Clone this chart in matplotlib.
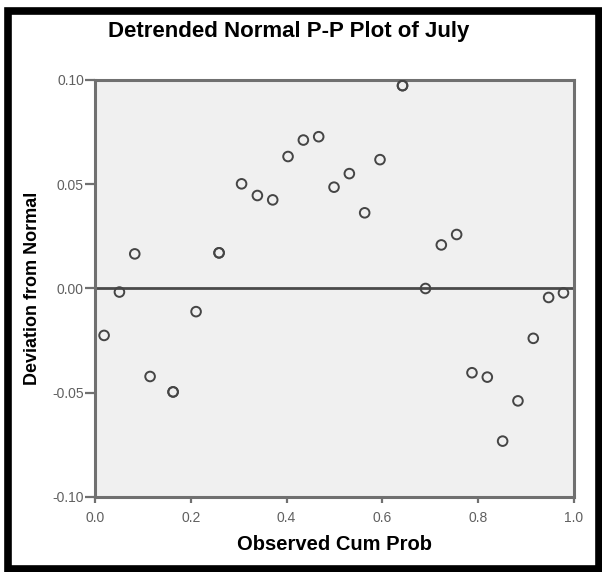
import matplotlib.pyplot as plt
from matplotlib.patches import Rectangle

plt.rcParams['font.family'] = ['Liberation Sans', 'DejaVu Sans']

# observed cumulative probability (ties repeated) and deviation from normal
obs_cum_prob = [0.019, 0.051, 0.083, 0.115, 0.163, 0.163, 0.211, 0.259, 0.259,
                0.306, 0.339, 0.371, 0.403, 0.435, 0.467, 0.499, 0.531, 0.563,
                0.595, 0.642, 0.642, 0.690, 0.723, 0.755, 0.787, 0.819, 0.851,
                0.883, 0.915, 0.947, 0.978]
deviation = [-0.0225, -0.0017, 0.0166, -0.0422, -0.0496, -0.0496, -0.0111, 0.0171, 0.0171,
             0.0502, 0.0446, 0.0425, 0.0633, 0.0712, 0.0728, 0.0486, 0.0551, 0.0363,
             0.0618, 0.0973, 0.0973, 0.0, 0.0209, 0.0259, -0.0404, -0.0425, -0.0732,
             -0.0539, -0.0239, -0.0043, -0.0021]
x_ticks = [0.0, 0.2, 0.4, 0.6, 0.8, 1.0]
y_ticks = [-0.10, -0.05, 0.00, 0.05, 0.10]

fig = plt.figure(figsize=(6.02, 5.72), dpi=100)
fig.patch.set_facecolor('white')

# thick black frame around the whole chart
fig.patches.append(Rectangle((8 / 602, 3 / 572), 591 / 602, 558 / 572,
                             transform=fig.transFigure, fill=False,
                             edgecolor='black', linewidth=5.5))

ax = fig.add_axes([95 / 602, 1 - 497 / 572, 479 / 602, 417 / 572])
ax.set_facecolor('#f0f0f0')
ax.axhline(0, color='#4a4a4a', linewidth=2.0, zorder=1)
ax.scatter(obs_cum_prob, deviation, s=48, facecolors='none',
           edgecolors='#454545', linewidths=1.4, zorder=3)

ax.set_xlim(0, 1)
ax.set_ylim(-0.10, 0.10)
ax.set_xticks(x_ticks)
ax.set_xticklabels([f'{v:.1f}' for v in x_ticks])
ax.set_yticks(y_ticks)
ax.set_yticklabels([f'{v:.2f}' for v in y_ticks])
ax.tick_params(colors='#707070', labelcolor='#606060', labelsize=10, width=1.6)
ax.tick_params(axis='y', length=7, pad=1)
ax.tick_params(axis='x', length=4, pad=6)
for sp in ax.spines.values():
    sp.set_color('#707070')
    sp.set_linewidth(2.2)

ax.set_xlabel('Observed Cum Prob', fontsize=14.5, fontweight='bold')
ax.xaxis.set_label_coords(0.5, -0.092)
ax.set_ylabel('Deviation from Normal', fontsize=13, fontweight='bold')
ax.yaxis.set_label_coords(-0.112, 0.5)
fig.text(289 / 602, 1 - 32 / 572, 'Detrended Normal P-P Plot of July',
         ha='center', va='center', fontsize=16, fontweight='bold')

fig.savefig('out.png', dpi=100)
